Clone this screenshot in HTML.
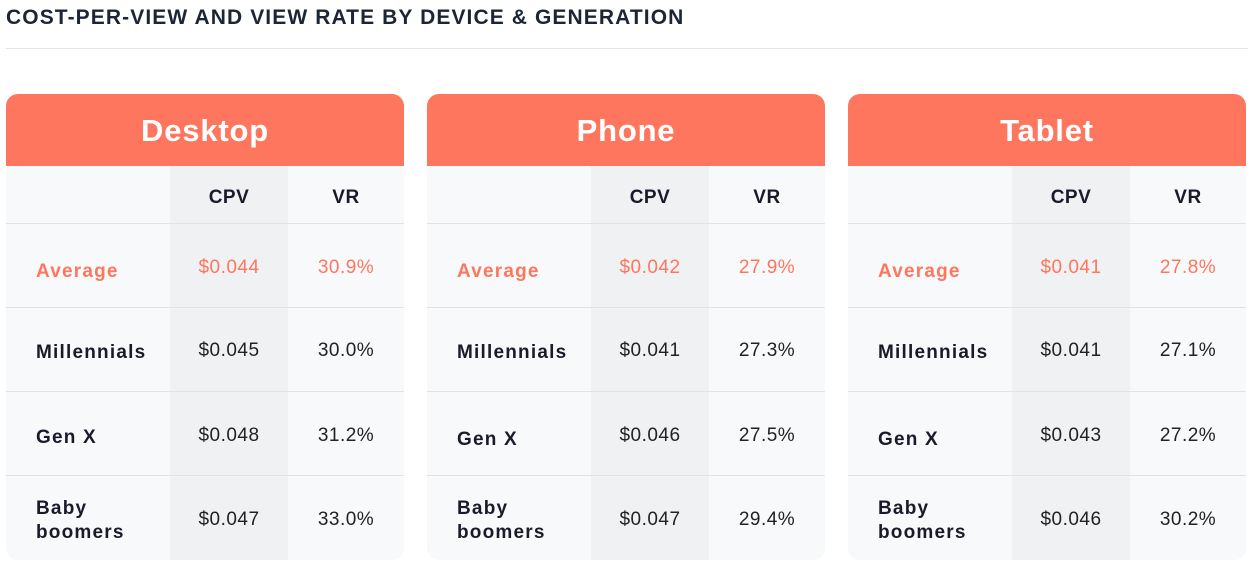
<!DOCTYPE html>
<html><head><style>
body{margin:0;width:1255px;height:561px;background:#fff;font-family:"Liberation Sans",sans-serif;position:relative;overflow:hidden}
.t{position:absolute;left:6px;top:6px;font-size:21px;font-weight:bold;color:#1c2536;letter-spacing:1.1px}
.hr{position:absolute;left:6px;top:48px;width:1242px;height:1px;background:#e3e3e3}
.p{position:absolute;top:94px;width:398px;height:466px;background:#f8f9fb;border-radius:12px;overflow:hidden}
.h{height:72px;background:#ff765e;color:#fff;font-size:31px;font-weight:bold;text-align:center;line-height:74px;letter-spacing:0.8px}
.g{position:absolute;left:164px;top:72px;width:118px;bottom:0;background:#f0f1f3}
.r{position:absolute;left:0;width:398px;border-top:1.5px solid #e2e3e6}
.c{position:absolute;font-size:19px;color:#222;letter-spacing:0.5px;margin-top:1px}
.l{position:absolute;left:30px;font-size:19px;font-weight:bold;color:#1a1a2a;letter-spacing:1.2px;margin-top:2px}
.o{color:#ff765e}
</style></head><body>
<div class="t">COST-PER-VIEW AND VIEW RATE BY DEVICE &amp; GENERATION</div>
<div class="hr"></div>
<div class="p" style="left:6px"><div class="h">Desktop</div><div class="g"></div>
<div class="c" style="left:164px;width:118px;top:92px;text-align:center;font-weight:bold;color:#1a1a2a">CPV</div>
<div class="c" style="left:282px;width:116px;top:92px;text-align:center;font-weight:bold;color:#1a1a2a">VR</div>
<div class="r" style="top:129px"></div><div class="r" style="top:213px"></div><div class="r" style="top:297px"></div><div class="r" style="top:381px"></div>
<div class="l o" style="top:165px">Average</div><div class="c o" style="left:164px;width:118px;top:162px;text-align:center">$0.044</div><div class="c o" style="left:282px;width:116px;top:162px;text-align:center">30.9%</div>
<div class="l" style="top:246px">Millennials</div><div class="c" style="left:164px;width:118px;top:245px;text-align:center">$0.045</div><div class="c" style="left:282px;width:116px;top:245px;text-align:center">30.0%</div>
<div class="l" style="top:331px">Gen X</div><div class="c" style="left:164px;width:118px;top:330px;text-align:center">$0.048</div><div class="c" style="left:282px;width:116px;top:330px;text-align:center">31.2%</div>
<div class="l" style="top:401px;line-height:24px">Baby<br>boomers</div><div class="c" style="left:164px;width:118px;top:414px;text-align:center">$0.047</div><div class="c" style="left:282px;width:116px;top:414px;text-align:center">33.0%</div>
</div>
<div class="p" style="left:427px"><div class="h">Phone</div><div class="g"></div>
<div class="c" style="left:164px;width:118px;top:92px;text-align:center;font-weight:bold;color:#1a1a2a">CPV</div>
<div class="c" style="left:282px;width:116px;top:92px;text-align:center;font-weight:bold;color:#1a1a2a">VR</div>
<div class="r" style="top:129px"></div><div class="r" style="top:213px"></div><div class="r" style="top:297px"></div><div class="r" style="top:381px"></div>
<div class="l o" style="top:165px">Average</div><div class="c o" style="left:164px;width:118px;top:162px;text-align:center">$0.042</div><div class="c o" style="left:282px;width:116px;top:162px;text-align:center">27.9%</div>
<div class="l" style="top:246px">Millennials</div><div class="c" style="left:164px;width:118px;top:245px;text-align:center">$0.041</div><div class="c" style="left:282px;width:116px;top:245px;text-align:center">27.3%</div>
<div class="l" style="top:333px">Gen X</div><div class="c" style="left:164px;width:118px;top:330px;text-align:center">$0.046</div><div class="c" style="left:282px;width:116px;top:330px;text-align:center">27.5%</div>
<div class="l" style="top:401px;line-height:24px">Baby<br>boomers</div><div class="c" style="left:164px;width:118px;top:414px;text-align:center">$0.047</div><div class="c" style="left:282px;width:116px;top:414px;text-align:center">29.4%</div>
</div>
<div class="p" style="left:848px"><div class="h">Tablet</div><div class="g"></div>
<div class="c" style="left:164px;width:118px;top:92px;text-align:center;font-weight:bold;color:#1a1a2a">CPV</div>
<div class="c" style="left:282px;width:116px;top:92px;text-align:center;font-weight:bold;color:#1a1a2a">VR</div>
<div class="r" style="top:129px"></div><div class="r" style="top:213px"></div><div class="r" style="top:297px"></div><div class="r" style="top:381px"></div>
<div class="l o" style="top:165px">Average</div><div class="c o" style="left:164px;width:118px;top:162px;text-align:center">$0.041</div><div class="c o" style="left:282px;width:116px;top:162px;text-align:center">27.8%</div>
<div class="l" style="top:246px">Millennials</div><div class="c" style="left:164px;width:118px;top:245px;text-align:center">$0.041</div><div class="c" style="left:282px;width:116px;top:245px;text-align:center">27.1%</div>
<div class="l" style="top:333px">Gen X</div><div class="c" style="left:164px;width:118px;top:330px;text-align:center">$0.043</div><div class="c" style="left:282px;width:116px;top:330px;text-align:center">27.2%</div>
<div class="l" style="top:401px;line-height:24px">Baby<br>boomers</div><div class="c" style="left:164px;width:118px;top:414px;text-align:center">$0.046</div><div class="c" style="left:282px;width:116px;top:414px;text-align:center">30.2%</div>
</div>
</body></html>
